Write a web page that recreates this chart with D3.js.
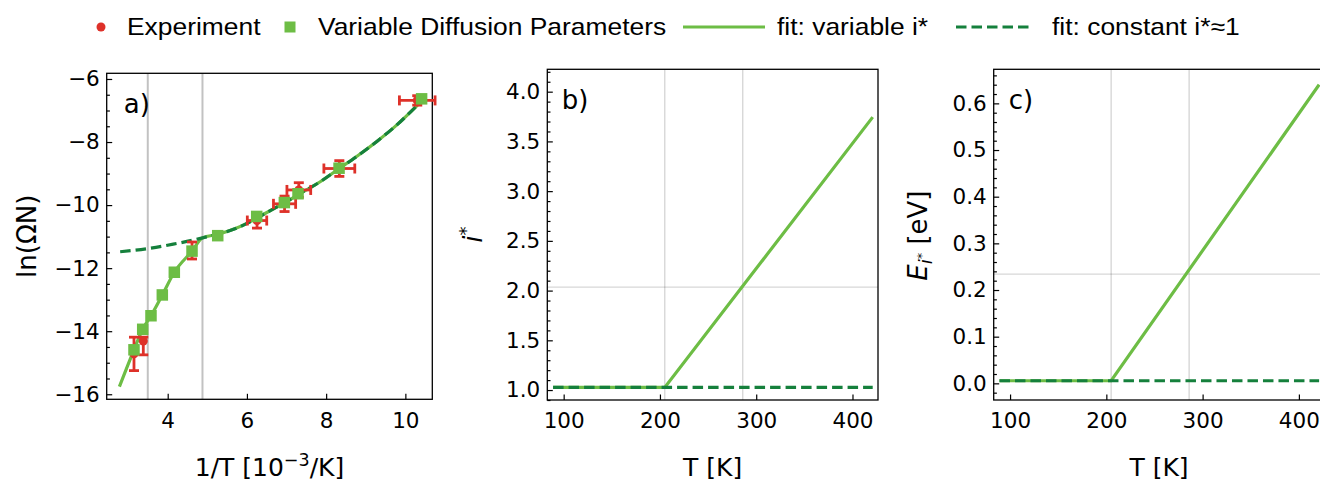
<!DOCTYPE html>
<html>
<head>
<meta charset="utf-8">
<script src="https://cdn.jsdelivr.net/npm/d3@7"></script>
<style>
  html, body { margin: 0; padding: 0; background: #fff; }
  svg { display: block; }
  text { font-family: "DejaVu Sans", sans-serif; fill: #000; }
  .legend text { font-family: "Liberation Sans", Arial, sans-serif; }
</style>
</head>
<body>
<svg id="chart" width="1320" height="483"></svg>
<script>
// ---------------- data ----------------
// a) model points from the variable diffusion parameters (1/T in 10^-3/K, ln(ΩN))
const modelInvT = [3.149, 3.369, 3.578, 3.864, 4.167, 4.614, 5.263, 6.247, 6.945, 7.29, 8.326, 10.41];
const modelLnON = [-14.59, -13.94, -13.51, -12.85, -12.13, -11.46, -10.97, -10.36, -9.92, -9.64, -8.83, -6.63];

// a) experimental values with error bars
const expInvT      = [3.149, 3.384, 4.614, 6.255, 6.95, 7.31, 8.333, 10.30];
const expLnON      = [-14.72, -14.31, -11.44, -10.49, -9.96, -9.52, -8.84, -6.68];
const expXErr      = [0, 0, 0, 0.245, 0.28, 0.30, 0.39, 0.45];
const expYErrLow   = [0.53, 0.44, 0.27, 0.24, 0.245, 0.23, 0.25, 0.15];
const expYErrHigh  = [0.53, 0.12, 0.27, 0.24, 0.245, 0.23, 0.25, 0.15];

// a) fit with constant i* ≈ 1
const fitConstInvT = [2.80, 3.50, 4.14, 4.61, 4.88, 5.26, 5.66, 6.00, 6.25, 6.67, 6.95, 7.29, 7.85, 8.33, 8.69, 9.28, 9.70, 10.41];
const fitConstLnON = [-11.48, -11.38, -11.24, -11.12, -11.04, -10.93, -10.77, -10.58, -10.41, -10.12, -9.93, -9.67, -9.26, -8.84, -8.53, -7.98, -7.55, -6.70];

// a) fit with variable i*
const fitVarInvT = [2.78, 3.149, 3.369, 3.578, 3.864, 4.167, 4.614, 4.88, 5.26, 5.66, 6.00, 6.25, 6.67, 6.95, 7.29, 7.85, 8.33, 8.69, 9.28, 9.70, 10.41];
const fitVarLnON = [-15.76, -14.59, -13.94, -13.51, -12.85, -12.13, -11.46, -11.04, -10.93, -10.77, -10.58, -10.41, -10.12, -9.93, -9.67, -9.26, -8.84, -8.53, -7.98, -7.55, -6.70];

// reference temperatures (K) and their inverse (10^-3/K)
const refTempK = [205, 286];
const refInvT  = [4.878, 3.497];

// b) i* versus T
const tempK       = [89, 205, 421];
const iStarVar    = [1.026, 1.026, 3.744];
const iStarConst  = [1.026, 1.026, 1.026];
const iStarRef    = 2.035;

// c) E_i* versus T
const eVar   = [0.0056, 0.0056, 0.640];
const eConst = [0.0056, 0.0056, 0.0056];
const eRef   = 0.234;

// tick labels
const ticksA_x = [4, 6, 8, 10];
const ticksA_y = [-16, -14, -12, -10, -8, -6];
const ticksT   = [100, 200, 300, 400];
const ticksB_y = [1.0, 1.5, 2.0, 2.5, 3.0, 3.5, 4.0];
const ticksC_y = [0.0, 0.1, 0.2, 0.3, 0.4, 0.5, 0.6];

// ---------------- style ----------------
const C_LIGHT = "#6dbd45";
const C_DARK  = "#15803c";
const C_RED   = "#de3129";
const DASH    = "10.5,5";
const LW      = 3.2;
const TEXT_SX = 1.1;   // horizontal stretch of legend lettering

const svg = d3.select("#chart");

const panels = {
  a: { left: 106.7, top: 73.3, width: 325.6, height: 326,
       x: [2.46, 10.68], y: [-16.16, -5.82] },
  b: { left: 547.3, top: 69.3, width: 330.7, height: 330.7,
       x: [83, 426.5], y: [0.90, 4.225] },
  c: { left: 993.7, top: 69.3, width: 330.7, height: 330.7,
       x: [83, 426.5], y: [-0.0357, 0.673] }
};

function makePanel(key, opt) {
  const p = panels[key];
  const g = svg.append("g").attr("transform", `translate(${p.left},${p.top})`);
  const x = d3.scaleLinear().domain(p.x).range([0, p.width]);
  const y = d3.scaleLinear().domain(p.y).range([p.height, 0]);

  const clipId = "clip-" + key;
  g.append("clipPath").attr("id", clipId)
    .append("rect").attr("width", p.width).attr("height", p.height);

  const plot = g.append("g").attr("clip-path", `url(#${clipId})`);
  const over = g.append("g");

  // major y ticks (inward) with labels
  g.append("g").call(
    d3.axisLeft(y).tickValues(opt.yTicks).tickFormat(opt.yFmt)
      .tickSizeInner(-5.5).tickSizeOuter(0).tickPadding(7));
  // minor y ticks
  g.append("g").call(
    d3.axisLeft(y).tickValues(opt.yMinor).tickFormat("")
      .tickSizeInner(-3.2).tickSizeOuter(0));
  // x ticks (inward) with labels
  g.append("g").attr("transform", `translate(0,${p.height})`).call(
    d3.axisBottom(x).tickValues(opt.xTicks).tickFormat(d3.format("d"))
      .tickSizeInner(-5.5).tickSizeOuter(0).tickPadding(13));

  g.selectAll(".domain").remove();
  g.selectAll(".tick line").attr("stroke", "#000").attr("stroke-width", 1.2);
  g.selectAll(".tick text")
    .style("font-family", "'DejaVu Sans', sans-serif")
    .style("font-size", "21.5px").attr("fill", "#000");

  // frame
  over.append("rect").attr("width", p.width).attr("height", p.height)
    .attr("fill", "none").attr("stroke", "#000").attr("stroke-width", 1.3);

  return { g, plot, over, x, y, p };
}

// ---------------- panel a ----------------
(function () {
  const A = makePanel("a", {
    xTicks: ticksA_x, yTicks: ticksA_y, yFmt: d3.format("d"),
    yMinor: d3.range(-16, -5.9, 0.5).filter(v => Math.abs(v % 2) > 0.01)
  });
  const { plot, g, x, y, p } = A;

  // reference temperatures as vertical lines
  plot.selectAll("line.ref").data(refInvT).join("line")
    .attr("x1", d => x(d)).attr("x2", d => x(d))
    .attr("y1", 0).attr("y2", p.height)
    .attr("stroke", "#c2c2c2").attr("stroke-width", 2);

  const line = d3.line().x(d => x(d[0])).y(d => y(d[1])).curve(d3.curveMonotoneX);

  plot.append("path").datum(d3.zip(fitVarInvT, fitVarLnON))
    .attr("d", line).attr("fill", "none")
    .attr("stroke", C_LIGHT).attr("stroke-width", LW);
  plot.append("path").datum(d3.zip(fitConstInvT, fitConstLnON))
    .attr("d", line).attr("fill", "none")
    .attr("stroke", C_DARK).attr("stroke-width", LW).attr("stroke-dasharray", DASH);

  // experimental error bars
  const cap = 5;
  const eb = g.append("g").attr("stroke", C_RED).attr("stroke-width", 2.8);
  expInvT.forEach((xv, i) => {
    const cx = x(xv), cy = y(expLnON[i]);
    if (expXErr[i] > 0) {
      const x0 = x(xv - expXErr[i]), x1 = x(xv + expXErr[i]);
      eb.append("line").attr("x1", x0).attr("x2", x1).attr("y1", cy).attr("y2", cy);
      eb.append("line").attr("x1", x0).attr("x2", x0).attr("y1", cy - cap).attr("y2", cy + cap);
      eb.append("line").attr("x1", x1).attr("x2", x1).attr("y1", cy - cap).attr("y2", cy + cap);
    }
    const y0 = y(expLnON[i] - expYErrLow[i]), y1 = y(expLnON[i] + expYErrHigh[i]);
    eb.append("line").attr("x1", cx).attr("x2", cx).attr("y1", y0).attr("y2", y1);
    eb.append("line").attr("x1", cx - cap).attr("x2", cx + cap).attr("y1", y0).attr("y2", y0);
    eb.append("line").attr("x1", cx - cap).attr("x2", cx + cap).attr("y1", y1).attr("y2", y1);
  });
  g.append("g").selectAll("circle").data(d3.zip(expInvT, expLnON)).join("circle")
    .attr("cx", d => x(d[0])).attr("cy", d => y(d[1])).attr("r", 4.5)
    .attr("fill", C_RED);

  // model squares
  const s = 11.5;
  g.append("g").selectAll("rect").data(d3.zip(modelInvT, modelLnON)).join("rect")
    .attr("x", d => x(d[0]) - s / 2).attr("y", d => y(d[1]) - s / 2)
    .attr("width", s).attr("height", s).attr("fill", C_LIGHT);

  // panel letter
  g.append("text").attr("x", 17).attr("y", 40).style("font-size", "26px").text("a)");

  // axis labels
  const xl = svg.append("text").attr("x", p.left + p.width / 2).attr("y", 476)
    .attr("text-anchor", "middle").style("font-size", "25px");
  xl.append("tspan").text("1/T [10");
  xl.append("tspan").attr("dy", -10).style("font-size", "17.5px").text("−3");
  xl.append("tspan").attr("dy", 10).text("/K]");

  svg.append("text").attr("transform", `translate(36,${p.top + p.height / 2}) rotate(-90)`)
    .attr("text-anchor", "middle").style("font-size", "26px").text("ln(ΩN)");
})();

// ---------------- panel b ----------------
(function () {
  const B = makePanel("b", {
    xTicks: ticksT, yTicks: ticksB_y, yFmt: d3.format(".1f"),
    yMinor: d3.range(9, 43, 1).filter(v => v % 5 !== 0).map(v => v / 10)
  });
  const { plot, g, x, y, p } = B;

  const grid = plot.append("g").attr("stroke", "#000").attr("stroke-opacity", 0.16)
    .attr("stroke-width", 1.4);
  refTempK.forEach(t => grid.append("line").attr("x1", x(t)).attr("x2", x(t))
    .attr("y1", 0).attr("y2", p.height));
  grid.append("line").attr("x1", 0).attr("x2", p.width)
    .attr("y1", y(iStarRef)).attr("y2", y(iStarRef));

  const line = d3.line().x(d => x(d[0])).y(d => y(d[1]));
  plot.append("path").datum(d3.zip(tempK, iStarVar)).attr("d", line)
    .attr("fill", "none").attr("stroke", C_LIGHT).attr("stroke-width", LW);
  plot.append("path").datum(d3.zip(tempK, iStarConst)).attr("d", line)
    .attr("fill", "none").attr("stroke", C_DARK).attr("stroke-width", LW)
    .attr("stroke-dasharray", DASH);

  g.append("text").attr("x", 14.5).attr("y", 39.5).style("font-size", "26px").text("b)");

  svg.append("text").attr("x", p.left + p.width / 2).attr("y", 476)
    .attr("text-anchor", "middle").style("font-size", "25px").text("T [K]");

  const yl = svg.append("text")
    .attr("transform", `translate(482,${p.top + p.height / 2}) rotate(-90)`)
    .attr("text-anchor", "middle").style("font-size", "26px");
  yl.append("tspan").style("font-style", "italic").text("i");
  yl.append("tspan").attr("dy", -10).style("font-size", "18px").text("*");
})();

// ---------------- panel c ----------------
(function () {
  const Cp = makePanel("c", {
    xTicks: ticksT, yTicks: ticksC_y, yFmt: d3.format(".1f"),
    yMinor: d3.range(-1, 34, 1).filter(v => v % 5 !== 0).map(v => v / 50)
  });
  const { plot, g, x, y, p } = Cp;

  const grid = plot.append("g").attr("stroke", "#000").attr("stroke-opacity", 0.16)
    .attr("stroke-width", 1.4);
  refTempK.forEach(t => grid.append("line").attr("x1", x(t)).attr("x2", x(t))
    .attr("y1", 0).attr("y2", p.height));
  grid.append("line").attr("x1", 0).attr("x2", p.width)
    .attr("y1", y(eRef)).attr("y2", y(eRef));

  const line = d3.line().x(d => x(d[0])).y(d => y(d[1]));
  plot.append("path").datum(d3.zip(tempK, eVar)).attr("d", line)
    .attr("fill", "none").attr("stroke", C_LIGHT).attr("stroke-width", LW);
  plot.append("path").datum(d3.zip(tempK, eConst)).attr("d", line)
    .attr("fill", "none").attr("stroke", C_DARK).attr("stroke-width", LW)
    .attr("stroke-dasharray", DASH);

  g.append("text").attr("x", 15).attr("y", 40).style("font-size", "26px").text("c)");

  svg.append("text").attr("x", p.left + p.width / 2).attr("y", 476)
    .attr("text-anchor", "middle").style("font-size", "25px").text("T [K]");

  const yl = svg.append("text")
    .attr("transform", `translate(927,${p.top + p.height / 2 + 1}) rotate(-90)`)
    .attr("text-anchor", "middle").style("font-size", "26px");
  yl.append("tspan").style("font-style", "italic").text("E");
  yl.append("tspan").attr("dy", 5).style("font-size", "18px").style("font-style", "italic").text("i");
  yl.append("tspan").attr("dy", -6).style("font-size", "13px").text("*");
  yl.append("tspan").attr("dy", 1).text(" [eV]");
})();

// ---------------- legend ----------------
(function () {
  const lg = svg.append("g").attr("class", "legend");
  const ly = 27, base = 34.5, fs = "24px";
  const label = (x, s) => lg.append("text")
    .attr("transform", `translate(${x},${base}) scale(${TEXT_SX},1)`)
    .style("font-size", fs).text(s);

  lg.append("circle").attr("cx", 101).attr("cy", ly).attr("r", 4.5).attr("fill", C_RED);
  label(127, "Experiment");
  lg.append("rect").attr("x", 290 - 5.5).attr("y", ly - 5.5).attr("width", 11).attr("height", 11)
    .attr("fill", C_LIGHT);
  label(318, "Variable Diffusion Parameters");
  lg.append("line").attr("x1", 683).attr("x2", 765).attr("y1", ly).attr("y2", ly)
    .attr("stroke", C_LIGHT).attr("stroke-width", LW);
  label(777, "fit: variable i*");
  lg.append("line").attr("x1", 956).attr("x2", 1033).attr("y1", ly).attr("y2", ly)
    .attr("stroke", C_DARK).attr("stroke-width", LW).attr("stroke-dasharray", DASH);
  label(1052, "fit: constant i*≈1");
})();
</script>
</body>
</html>
